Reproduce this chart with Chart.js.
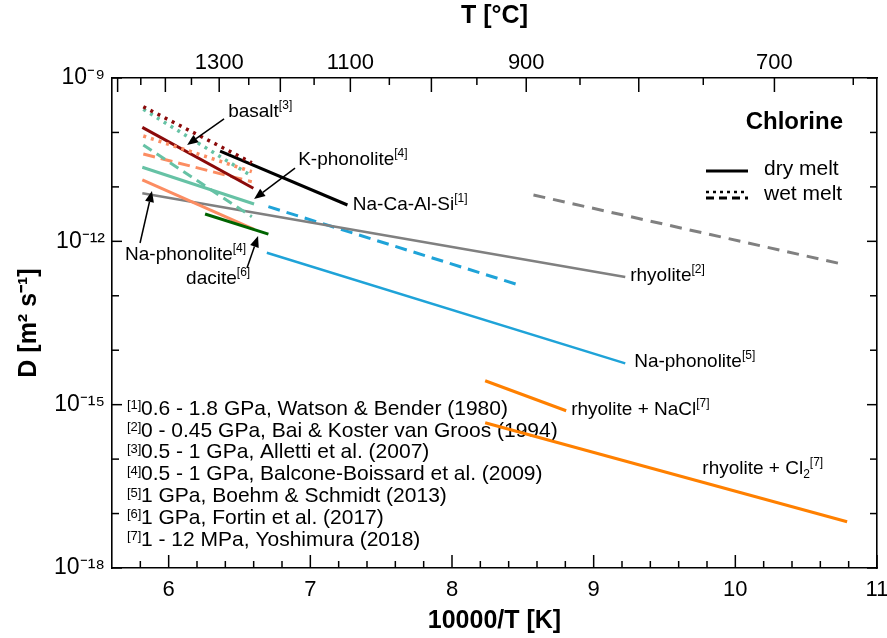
<!DOCTYPE html>
<html>
<head>
<meta charset="utf-8">
<script src="https://cdn.jsdelivr.net/npm/chart.js@4"></script>
<style>
  body { margin: 0; background: #fff; }
  #contenedor { width: 887px; height: 638px; position: relative; }
</style>
</head>
<body>
<div id="contenedor"><canvas id="grafico"></canvas></div>
<script>
// ==========================================
// EJES
// ==========================================
const xMayores = [6, 7, 8, 9, 10, 11];
const xMenores = [5.8, 6.2, 6.4, 6.6, 6.8, 7.2, 7.4, 7.6, 7.8, 8.2, 8.4, 8.6, 8.8, 9.2, 9.4, 9.6, 9.8, 10.2, 10.4, 10.6, 10.8];
const yEtiquetas = [1e-18, 1e-15, 1e-12, 1e-9];
const yMenores = [1e-17, 1e-16, 1e-14, 1e-13, 1e-11, 1e-10];
const tEtiquetas = [1300, 1100, 900, 700];          // T [°C] eje superior
const tMayores = [1500, 1400, 1300, 1200, 1100, 1000, 900, 800, 700];
const tMenores = [1450, 1350, 1250, 1150, 1050, 950, 850, 750, 650];

// ==========================================
// DATOS: 10000/T [K] y D [m² s⁻¹] (inicio y fin de cada recta)
// ==========================================
const rojoPuntosX = [5.821, 6.587];      // basalt, wet
const rojoPuntosD = [2.97e-10, 2.78e-11];
const verdeAguaPuntosX = [5.821, 6.575];
const verdeAguaPuntosD = [2.66e-10, 1.65e-11];
const salmonPuntosX = [5.821, 6.587];
const salmonPuntosD = [8.6e-11, 1.9e-11];
const rojoX = [5.814, 6.598];            // basalt, dry
const rojoD = [1.24e-10, 9.42e-12];
const salmonRayasX = [5.821, 6.587];
const salmonRayasD = [4.02e-11, 1.24e-11];
const verdeAguaRayasX = [5.821, 6.587];
const verdeAguaRayasD = [5.87e-11, 2.83e-12];
const verdeAguaX = [5.814, 6.603];       // K-phonolite
const verdeAguaD = [2.29e-11, 4.85e-12];
const salmonX = [5.814, 6.603];          // Na-phonolite [4]
const salmonD = [1.34e-11, 1.66e-12];
const grisX = [5.814, 9.223];            // rhyolite [2]
const grisD = [7.62e-12, 2.21e-13];
const daciteX = [6.257, 6.704];
const daciteD = [3.18e-12, 1.36e-12];
const negroX = [6.363, 7.262];           // Na-Ca-Al-Si
const negroD = [4.56e-11, 4.65e-12];
const azulRayasX = [6.704, 8.458];
const azulRayasD = [4.33e-12, 1.62e-13];
const azulX = [6.693, 9.223];            // Na-phonolite [5]
const azulD = [6.18e-13, 5.74e-15];
const grisRayasX = [8.575, 10.753];
const grisRayasD = [7.10e-12, 3.83e-13];
const naclX = [8.234, 8.806];            // rhyolite + NaCl
const naclD = [2.75e-15, 7.74e-16];
const cl2X = [8.234, 10.789];            // rhyolite + Cl2
const cl2D = [4.66e-16, 7.08e-18];

const referencias = [
    ['[1]', '0.6 - 1.8 GPa, Watson & Bender (1980)'],
    ['[2]', '0 - 0.45 GPa, Bai & Koster van Groos (1994)'],
    ['[3]', '0.5 - 1 GPa, Alletti et al. (2007)'],
    ['[4]', '0.5 - 1 GPa, Balcone-Boissard et al. (2009)'],
    ['[5]', '1 GPa, Boehm & Schmidt (2013)'],
    ['[6]', '1 GPa, Fortin et al. (2017)'],
    ['[7]', '1 - 12 MPa, Yoshimura (2018)']
];

const etiquetas = [
    { texto: [['basalt'], ['[3]', 'sup']], x: 6.42, d: 2.37e-10 },
    { texto: [['K-phonolite'], ['[4]', 'sup']], x: 6.914, d: 3.12e-11 },
    { texto: [['Na-Ca-Al-Si'], ['[1]', 'sup']], x: 7.30, d: 4.65e-12 },
    { texto: [['Na-phonolite'], ['[4]', 'sup']], x: 5.692, d: 5.61e-13 },
    { texto: [['dacite'], ['[6]', 'sup']], x: 6.123, d: 2.03e-13 },
    { texto: [['rhyolite'], ['[2]', 'sup']], x: 9.258, d: 2.31e-13 },
    { texto: [['Na-phonolite'], ['[5]', 'sup']], x: 9.286, d: 6.07e-15 },
    { texto: [['rhyolite + NaCl'], ['[7]', 'sup']], x: 8.841, d: 7.98e-16 },
    { texto: [['rhyolite + Cl'], ['2', 'sub'], ['[7]', 'sup']], x: 9.767, d: 6.58e-17 }
];

const flechas = [
    { x1: 6.391, d1: 1.77e-10, x2: 6.130, d2: 5.87e-11 },
    { x1: 6.892, d1: 2.22e-11, x2: 6.603, d2: 5.98e-12 },
    { x1: 5.798, d1: 9.31e-13, x2: 5.882, d2: 8.39e-12 },
    { x1: 6.553, d1: 3.24e-13, x2: 6.631, d2: 1.25e-12 }
];

// ==========================================
// ESTILOS
// ==========================================
const fuente = '"Liberation Sans", Arial, Helvetica, sans-serif';
const punteado = [3, 5];

// la primera serie queda encima
const series = [
    { x: rojoPuntosX, d: rojoPuntosD, color: '#8b0a0a', dash: punteado, ancho: 3.5 },
    { x: verdeAguaPuntosX, d: verdeAguaPuntosD, color: '#66c2a5', dash: punteado, ancho: 3.5 },
    { x: salmonPuntosX, d: salmonPuntosD, color: '#fc8d62', dash: punteado, ancho: 3.5 },
    { x: rojoX, d: rojoD, color: '#8b0a0a', dash: [], ancho: 3 },
    { x: negroX, d: negroD, color: '#000000', dash: [], ancho: 3 },
    { x: verdeAguaRayasX, d: verdeAguaRayasD, color: '#66c2a5', dash: [10, 6], ancho: 3 },
    { x: salmonRayasX, d: salmonRayasD, color: '#fc8d62', dash: [12, 6], ancho: 3 },
    { x: verdeAguaX, d: verdeAguaD, color: '#66c2a5', dash: [], ancho: 3 },
    { x: daciteX, d: daciteD, color: '#006400', dash: [], ancho: 3 },
    { x: salmonX, d: salmonD, color: '#fc8d62', dash: [], ancho: 3 },
    { x: grisX, d: grisD, color: '#808080', dash: [], ancho: 2.5 },
    { x: azulRayasX, d: azulRayasD, color: '#1fa3d8', dash: [12, 7], ancho: 3 },
    { x: azulX, d: azulD, color: '#1fa3d8', dash: [], ancho: 2.5 },
    { x: grisRayasX, d: grisRayasD, color: '#808080', dash: [12, 8], ancho: 3 },
    { x: naclX, d: naclD, color: '#ff8000', dash: [], ancho: 3 },
    { x: cl2X, d: cl2D, color: '#ff8000', dash: [], ancho: 3 }
];

const aInversa = t => 10000 / (t + 273.15);
const supDigitos = { '-': '⁻', '0': '⁰', '1': '¹', '2': '²', '3': '³', '4': '⁴', '5': '⁵', '6': '⁶', '7': '⁷', '8': '⁸', '9': '⁹' };

function escribir(ctx, partes, x, y, tam) {
    let cx = x;
    partes.forEach(([t, tipo]) => {
        const chico = tipo === 'sup' || tipo === 'sub';
        const s = chico ? Math.round(tam * 0.62) : tam;
        ctx.font = `${s}px ${fuente}`;
        const dy = tipo === 'sup' ? -tam * 0.34 : tipo === 'sub' ? tam * 0.3 : 0;
        ctx.fillText(t, cx, y + dy);
        cx += ctx.measureText(t).width;
    });
}

function flecha(ctx, x1, y1, x2, y2) {
    const ang = Math.atan2(y2 - y1, x2 - x1);
    const L = 11, W = 4.5;
    const bx = x2 - L * Math.cos(ang), by = y2 - L * Math.sin(ang);
    ctx.beginPath(); ctx.moveTo(x1, y1); ctx.lineTo(bx, by); ctx.stroke();
    ctx.beginPath();
    ctx.moveTo(x2, y2);
    ctx.lineTo(bx + W * Math.sin(ang), by - W * Math.cos(ang));
    ctx.lineTo(bx - W * Math.sin(ang), by + W * Math.cos(ang));
    ctx.closePath(); ctx.fill();
}

// MARCAS DE LOS EJES (hacia dentro)
const marcasEjes = {
    id: 'marcasEjes',
    afterDraw(chart) {
        const { ctx, chartArea: a, scales } = chart;
        ctx.save();
        ctx.strokeStyle = '#000'; ctx.lineWidth = 1.5;
        const linea = (x1, y1, x2, y2) => { ctx.beginPath(); ctx.moveTo(x1, y1); ctx.lineTo(x2, y2); ctx.stroke(); };
        xMayores.forEach(v => { const p = scales.x.getPixelForValue(v); linea(p, a.bottom, p, a.bottom - 13); });
        xMenores.forEach(v => { const p = scales.x.getPixelForValue(v); linea(p, a.bottom, p, a.bottom - 7); });
        tMayores.forEach(t => { const p = scales.xTop.getPixelForValue(aInversa(t)); linea(p, a.top, p, a.top + 14); });
        tMenores.forEach(t => { const p = scales.xTop.getPixelForValue(aInversa(t)); if (p < a.right) linea(p, a.top, p, a.top + 7); });
        yEtiquetas.forEach(v => { const p = scales.y.getPixelForValue(v); linea(a.left, p, a.left + 10, p); linea(a.right, p, a.right - 10, p); });
        yMenores.forEach(v => { const p = scales.y.getPixelForValue(v); linea(a.left, p, a.left + 7, p); linea(a.right, p, a.right - 7, p); });
        ctx.restore();
    }
};

// TEXTOS DE FONDO: referencias
const textosFondo = {
    id: 'textosFondo',
    beforeDatasetsDraw(chart) {
        const { ctx, chartArea: a } = chart;
        ctx.save();
        ctx.fillStyle = '#000'; ctx.textBaseline = 'middle'; ctx.textAlign = 'left';
        referencias.forEach(([n, t], i) => {
            const y = a.top + 331 + i * 21.8;
            escribir(ctx, [[n, 'sup']], a.left + 15, y + 4, 21);
            escribir(ctx, [[t]], a.left + 29, y, 21);
        });
        ctx.restore();
    }
};

// ETIQUETAS, FLECHAS Y LEYENDA
const anotaciones = {
    id: 'anotaciones',
    afterDatasetsDraw(chart) {
        const { ctx, chartArea: a, scales } = chart;
        const px = v => scales.x.getPixelForValue(v);
        const py = v => scales.y.getPixelForValue(v);
        ctx.save();
        ctx.fillStyle = '#000'; ctx.strokeStyle = '#000';
        ctx.textBaseline = 'middle'; ctx.textAlign = 'left';
        etiquetas.forEach(e => escribir(ctx, e.texto, px(e.x), py(e.d), 19));
        ctx.lineWidth = 1.5;
        flechas.forEach(f => flecha(ctx, px(f.x1), py(f.d1), px(f.x2), py(f.d2)));

        ctx.font = `bold 24px ${fuente}`;
        ctx.textAlign = 'right';
        ctx.fillText('Chlorine', a.right - 34, a.top + 44);

        ctx.textAlign = 'left';
        ctx.font = `21px ${fuente}`;
        ctx.fillText('dry melt', a.right - 113, a.top + 91);
        ctx.fillText('wet melt', a.right - 113, a.top + 116);
        ctx.lineWidth = 3;
        ctx.beginPath(); ctx.moveTo(a.right - 171, a.top + 93); ctx.lineTo(a.right - 129, a.top + 93); ctx.stroke();
        ctx.setLineDash([8, 5]);
        ctx.beginPath(); ctx.moveTo(a.right - 171, a.top + 120); ctx.lineTo(a.right - 129, a.top + 120); ctx.stroke();
        ctx.lineWidth = 2.5;
        ctx.setLineDash([3, 4]);
        ctx.beginPath(); ctx.moveTo(a.right - 171, a.top + 114); ctx.lineTo(a.right - 129, a.top + 114); ctx.stroke();
        ctx.restore();
    }
};

// sin margen extra por las etiquetas de los extremos
const sinMargen = s => { s.paddingLeft = 0; s.paddingRight = 0; s.paddingTop = 0; s.paddingBottom = 0; };

const ejeBase = {
    grid: { display: true, drawOnChartArea: false, drawTicks: false },
    border: { display: true, color: '#000', width: 1.6 }
};

document.addEventListener('DOMContentLoaded', () => {
    Chart.defaults.font.family = fuente;
    Chart.defaults.color = '#000';

    new Chart(document.getElementById('grafico'), {
        type: 'line',
        data: {
            datasets: series.map(s => ({
                data: s.x.map((x, i) => ({ x: x, y: s.d[i] })),
                borderColor: s.color,
                borderDash: s.dash,
                borderWidth: s.ancho,
                pointRadius: 0,
                fill: false,
                tension: 0,
                xAxisID: 'x',
                yAxisID: 'y'
            }))
        },
        options: {
            responsive: true,
            maintainAspectRatio: false,
            animation: false,
            layout: { padding: 0 },
            plugins: { legend: { display: false }, tooltip: { enabled: false } },
            scales: {
                x: {
                    ...ejeBase,
                    type: 'linear', position: 'bottom', min: 5.6, max: 11,
                    afterBuildTicks: s => { s.ticks = xMayores.map(v => ({ value: v })); },
                    afterFit: s => { s.height = 70; sinMargen(s); },
                    ticks: { font: { size: 22, lineHeight: 1 }, padding: 11, maxRotation: 0, autoSkip: false },
                    title: { display: true, text: '10000/T [K]', font: { size: 25, weight: 'bold', lineHeight: 1 }, padding: { top: 0, bottom: 4.5 } }
                },
                xTop: {
                    ...ejeBase,
                    type: 'linear', position: 'top', min: 5.6, max: 11,
                    afterBuildTicks: s => { s.ticks = tEtiquetas.map(t => ({ value: aInversa(t) })); },
                    afterFit: s => { s.height = 78; sinMargen(s); },
                    ticks: { font: { size: 22, lineHeight: 1 }, padding: 4, maxRotation: 0, autoSkip: false,
                             callback: (v, i) => String(tEtiquetas[i]) },
                    title: { display: true, text: 'T [°C]', font: { size: 25, weight: 'bold', lineHeight: 1 }, padding: { top: 3.5, bottom: 0 } }
                },
                y: {
                    ...ejeBase,
                    type: 'logarithmic', position: 'left', min: 1e-18, max: 1e-9,
                    afterBuildTicks: s => { s.ticks = yEtiquetas.map(v => ({ value: v })); },
                    afterFit: s => { s.width = 112; sinMargen(s); },
                    ticks: { font: { size: 23 }, padding: 7, autoSkip: false,
                             callback: v => '10' + String(Math.round(Math.log10(v))).split('').map(c => supDigitos[c]).join('') },
                    title: { display: true, text: 'D [m² s⁻¹]', font: { size: 25, weight: 'bold', lineHeight: 1 }, padding: { top: 16.5, bottom: 0 } }
                },
                yRight: {
                    ...ejeBase,
                    type: 'logarithmic', position: 'right', min: 1e-18, max: 1e-9,
                    afterFit: s => { s.width = 10; sinMargen(s); },
                    ticks: { display: false }
                }
            }
        },
        plugins: [textosFondo, anotaciones, marcasEjes]
    });
});
</script>
</body>
</html>
